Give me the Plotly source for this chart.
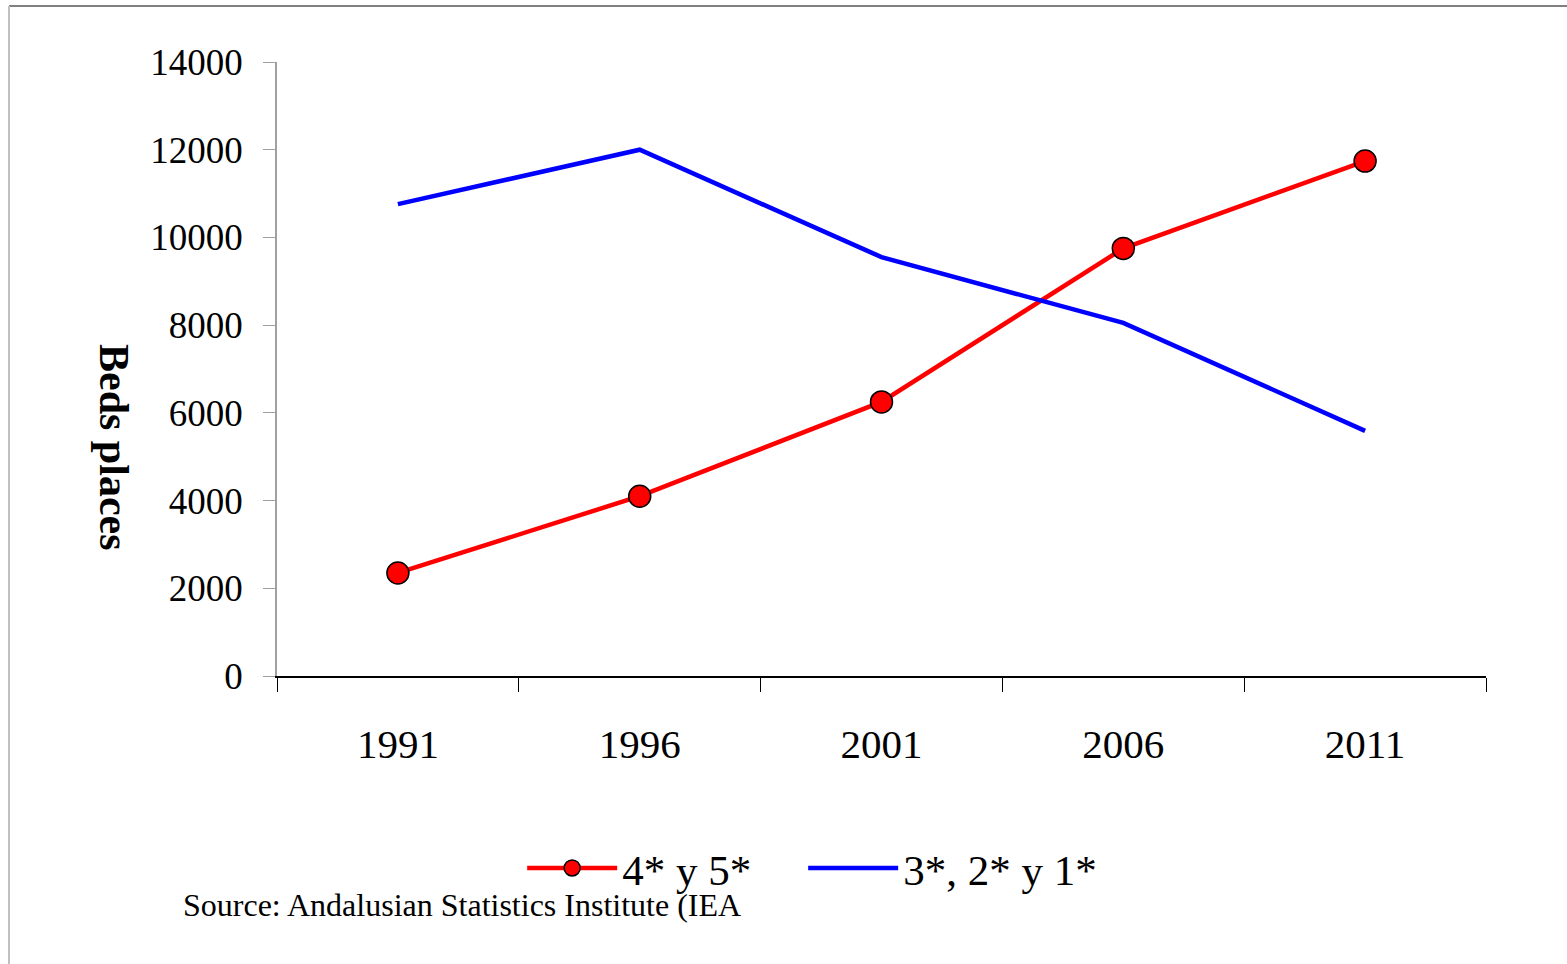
import plotly.graph_objects as go

years = ["1991", "1996", "2001", "2006", "2011"]
high_cat = [2350, 4100, 6250, 9750, 11740]
low_cat = [10760, 12000, 9550, 8050, 5590]
y_ticks = [0, 2000, 4000, 6000, 8000, 10000, 12000, 14000]
y_tick_text = [str(v) for v in y_ticks]

W, H = 1567, 964
L, R, T, B = 277, 81, 62, 288
PW, PH = W - L - R, H - T - B

def px(x):
    return (x - L) / PW

def py(y):
    return (H - B - y) / PH

serif = "Liberation Serif"

fig = go.Figure()
fig.add_trace(go.Scatter(
    x=years, y=high_cat, name="4* y 5*", mode="lines+markers",
    line=dict(color="#ff0000", width=4.5),
    marker=dict(size=22, color="#ff0000", line=dict(color="black", width=1.5)),
    legend="legend",
))
fig.add_trace(go.Scatter(
    x=years, y=low_cat, name="3*, 2* y 1*", mode="lines",
    line=dict(color="#0000ff", width=4.5),
    legend="legend2",
))

legend_common = dict(
    orientation="h", yanchor="middle", xanchor="left",
    font=dict(family=serif, size=43, color="black"),
    itemwidth=90, bgcolor="rgba(0,0,0,0)",
)

fig.update_layout(
    width=W, height=H,
    margin=dict(l=L, r=R, t=T, b=B, pad=0),
    paper_bgcolor="white", plot_bgcolor="white",
    font=dict(family=serif, color="black"),
    showlegend=True,
    legend=dict(x=px(527) - 0.004, y=py(868), **legend_common),
    legend2=dict(x=px(808) - 0.004, y=py(868), **legend_common),
    xaxis=dict(
        type="category", range=[-0.5, 4.5], tickson="boundaries",
        showline=True, linecolor="black", linewidth=1.5,
        ticks="outside", ticklen=14, tickcolor="black", tickwidth=1.2,
        showgrid=False, zeroline=False,
        tickfont=dict(family=serif, size=41, color="black"),
        ticklabelstandoff=31,
    ),
    yaxis=dict(
        range=[0, 14000], tickvals=y_ticks, ticktext=y_tick_text,
        showline=True, linecolor="#a0a0a0", linewidth=1.5,
        ticks="outside", ticklen=12, tickcolor="#a0a0a0", tickwidth=1.2,
        showgrid=False, zeroline=False,
        tickfont=dict(family=serif, size=37, color="black"),
        ticklabelstandoff=13,
    ),
    annotations=[
        dict(text="<b>Beds places</b>", textangle=90, x=px(114), y=py(447),
             xref="paper", yref="paper", showarrow=False,
             font=dict(family=serif, size=42, color="black"),
             xanchor="center", yanchor="middle"),
        dict(text="Source: Andalusian Statistics Institute (IEA", x=px(181), y=py(905),
             xref="paper", yref="paper", showarrow=False,
             font=dict(family=serif, size=32, color="black"),
             xanchor="left", yanchor="middle"),
    ],
    shapes=[
        dict(type="line", xref="paper", yref="paper", x0=px(9), x1=px(1567),
             y0=py(6), y1=py(6), line=dict(color="#808080", width=2)),
        dict(type="line", xref="paper", yref="paper", x0=px(9), x1=px(9),
             y0=py(6), y1=py(964), line=dict(color="#c0c0c0", width=2)),
    ],
)

fig.write_html("out.html", config={"displayModeBar": False},
               post_script="document.body.style.margin='0';")
